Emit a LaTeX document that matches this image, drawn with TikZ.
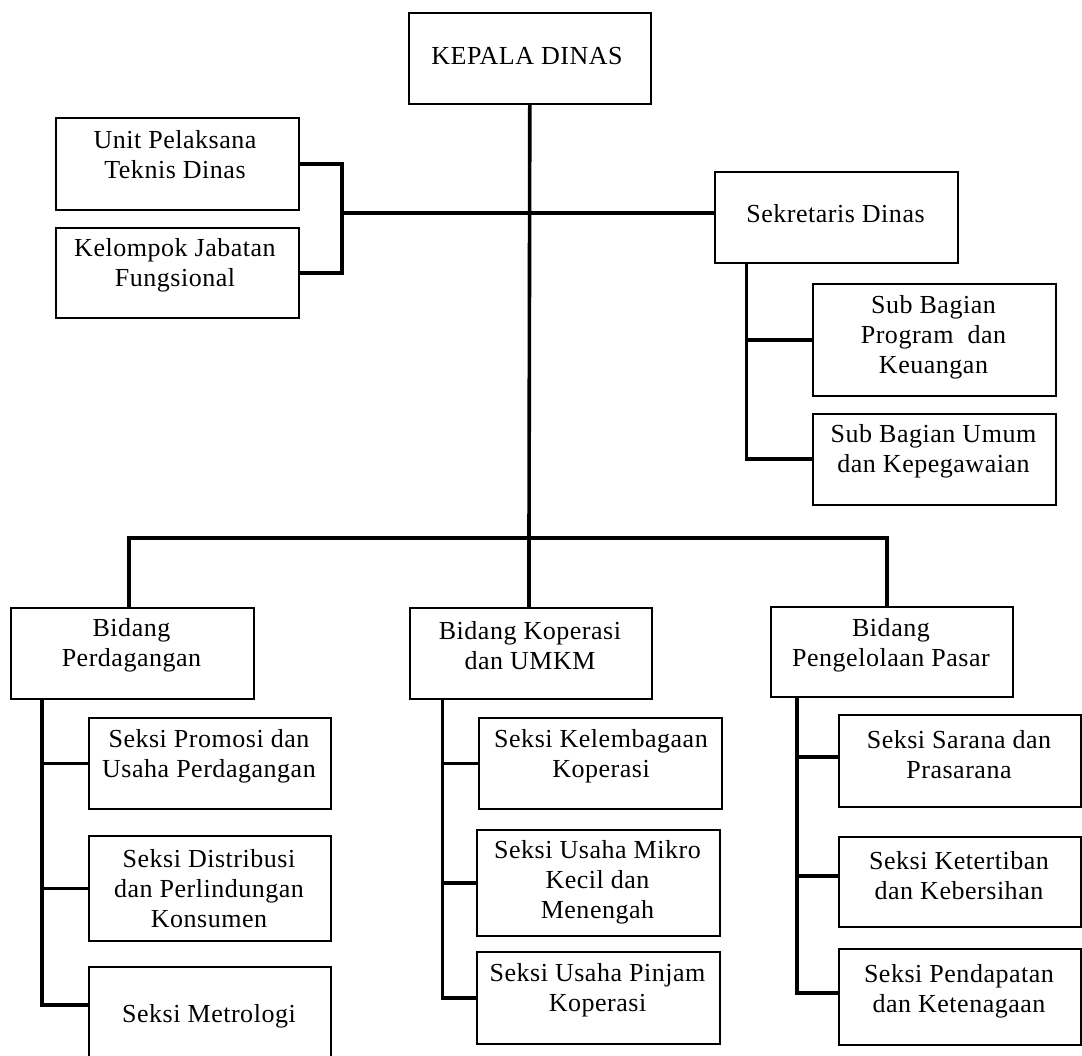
\documentclass[tikz,border=0pt]{standalone}
\usepackage{fontspec}
\setmainfont[LetterSpace=2]{Liberation Serif}
\begin{document}
\begin{tikzpicture}[x=1pt,y=-1pt,
  box/.style={draw=black, line width=1.6pt, anchor=north west, inner sep=0pt},
  lbl/.style={align=center, font=\fontsize{26}{30}\selectfont, inner sep=0pt, text=black},
  conn/.style={draw=black, line width=3.6pt, line join=miter}]
\useasboundingbox (0,0) rectangle (1082,1056);
\clip (0,0) rectangle (1082,1056);
% boxes
\node[box, minimum width=242pt, minimum height=91pt]  (kepala) at (408,12) {};
\node[box, minimum width=243pt, minimum height=92pt]  (unit)   at (55,117) {};
\node[box, minimum width=243pt, minimum height=90pt]  (klp)    at (55,227) {};
\node[box, minimum width=243pt, minimum height=91pt]  (sek)    at (714,171) {};
\node[box, minimum width=243pt, minimum height=112pt] (sbp)    at (812,283) {};
\node[box, minimum width=243pt, minimum height=91pt]  (sbu)    at (812,413) {};
\node[box, minimum width=243pt, minimum height=91pt]  (perd)   at (10,607) {};
\node[box, minimum width=242pt, minimum height=91pt]  (kop)    at (409,607) {};
\node[box, minimum width=242pt, minimum height=90pt]  (pasar)  at (770,606) {};
\node[box, minimum width=242pt, minimum height=91pt]  (promosi) at (88,717) {};
\node[box, minimum width=242pt, minimum height=105pt] (distr)  at (88,835) {};
\node[box, minimum width=242pt, minimum height=110pt] (metro)  at (88,966) {};
\node[box, minimum width=243pt, minimum height=91pt]  (kel)    at (478,717) {};
\node[box, minimum width=243pt, minimum height=106pt] (mikro)  at (476,829) {};
\node[box, minimum width=243pt, minimum height=92pt]  (pinjam) at (476,951) {};
\node[box, minimum width=242pt, minimum height=92pt]  (sarana) at (838,714) {};
\node[box, minimum width=242pt, minimum height=90pt]  (ketert) at (838,836) {};
\node[box, minimum width=242pt, minimum height=96pt]  (pendap) at (838,948) {};
% labels
\node[lbl] (kepalaT) at (527,56) {KEPALA DINAS};
\node[lbl] (unitT) at (175,155) {Unit Pelaksana\\Teknis Dinas};
\node[lbl] (klpT) at (175,265) {Kelompok Jabatan\\Fungsional};
\node[lbl] (sekT) at (835.5,214) {Sekretaris Dinas};
\node[lbl] (sbpT) at (933.5,337) {Sub Bagian\\Program\ \ dan\\Keuangan};
\node[lbl] (sbuT) at (933.5,451) {Sub Bagian Umum\\dan Kepegawaian};
\node[lbl] (perdT) at (131.5,645) {Bidang\\Perdagangan};
\node[lbl] (kopT) at (530,646) {Bidang Koperasi\\dan UMKM};
\node[lbl] (pasarT) at (891,645) {Bidang\\Pengelolaan Pasar};
\node[lbl] (promosiT) at (209,756) {Seksi Promosi dan\\Usaha Perdagangan};
\node[lbl] (distrT) at (209,889) {Seksi Distribusi\\dan Perlindungan\\Konsumen};
\node[lbl] (metroT) at (209,1016) {Seksi Metrologi};
\node[lbl] (kelT) at (601,756) {Seksi Kelembagaan\\Koperasi};
\node[lbl] (mikroT) at (597.5,882) {Seksi Usaha Mikro\\Kecil dan\\Menengah};
\node[lbl] (pinjamT) at (597.5,990) {Seksi Usaha Pinjam\\Koperasi};
\node[lbl] (saranaT) at (959,755) {Seksi Sarana dan\\Prasarana};
\node[lbl] (ketertT) at (959,876) {Seksi Ketertiban\\dan Kebersihan};
\node[lbl] (pendapT) at (959,991) {Seksi Pendapatan\\dan Ketenagaan};
% coordinates
\coordinate (br) at (342,213);
\coordinate (hb) at (529,538);
\coordinate (sv) at ([xshift=-90pt]sek.south);
\coordinate (pv) at ([xshift=-90.5pt]perd.south);
\coordinate (kv) at ([xshift=-88.5pt]kop.south);
\coordinate (qv) at ([xshift=-95pt]pasar.south);
% connectors
\draw[conn] (kepala.south) -- (hb);
\draw[conn] (unit.east) -- (unit.east -| br) -- (klp.east -| br) -- (klp.east);
\draw[conn] (br) -- (br -| sek.west);
\draw[conn] (sv) |- (sbu.west);
\draw[conn] (sbp.west) -- (sbp.west -| sv);
\draw[conn] ([xshift=-3.5pt]perd.north) -- ([xshift=-3.5pt]perd.north |- hb) -- ([xshift=-5pt]pasar.north |- hb) -- ([xshift=-5pt]pasar.north);
\draw[conn] (hb) -- (hb |- kop.north);
\draw[conn] (pv) |- ([yshift=17pt]metro.west);
\draw[conn] (promosi.west) -- (promosi.west -| pv);
\draw[conn] (distr.west) -- (distr.west -| pv);
\draw[conn] (kv) |- (pinjam.west);
\draw[conn] (kel.west) -- (kel.west -| kv);
\draw[conn] (mikro.west) -- (mikro.west -| kv);
\draw[conn] (qv) |- ([yshift=4pt]pendap.west);
\draw[conn] ([yshift=4pt]sarana.west) -- ([yshift=4pt]sarana.west -| qv);
\draw[conn] ([yshift=6pt]ketert.west) -- ([yshift=6pt]ketert.west -| qv);
\end{tikzpicture}
\end{document}
